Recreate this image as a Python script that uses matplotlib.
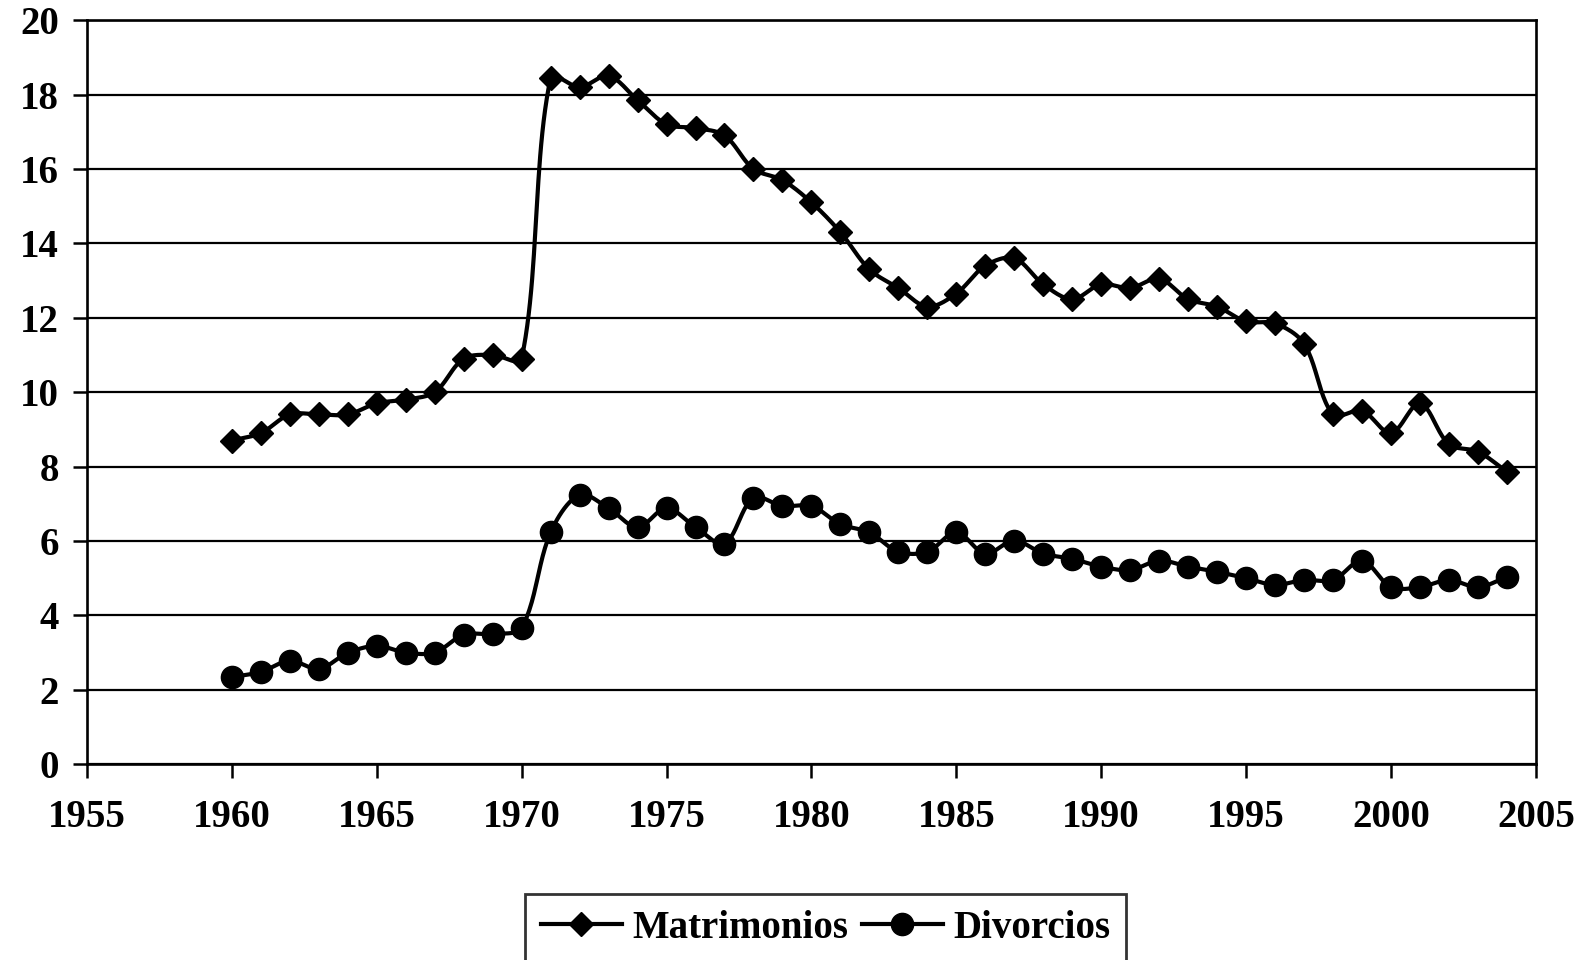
import numpy as np
import matplotlib.pyplot as plt
from matplotlib.lines import Line2D

years = list(range(1960, 2005))
matrimonios = [8.7, 8.9, 9.4, 9.4, 9.4, 9.7, 9.8, 10.0, 10.9, 11.0,
               10.9, 18.45, 18.2, 18.5, 17.85, 17.2, 17.1, 16.9, 16.0, 15.7,
               15.1, 14.3, 13.3, 12.8, 12.3, 12.65, 13.4, 13.6, 12.9, 12.5,
               12.9, 12.8, 13.05, 12.5, 12.3, 11.9, 11.85, 11.3, 9.4, 9.5,
               8.9, 9.7, 8.6, 8.4, 7.86]
divorcios = [2.34, 2.48, 2.78, 2.56, 2.99, 3.18, 3.0, 3.0, 3.48, 3.5,
             3.67, 6.23, 7.24, 6.88, 6.37, 6.88, 6.37, 5.93, 7.16, 6.94,
             6.94, 6.45, 6.23, 5.71, 5.71, 6.23, 5.66, 6.01, 5.66, 5.52,
             5.31, 5.22, 5.47, 5.31, 5.17, 5.0, 4.82, 4.95, 4.95, 5.47,
             4.76, 4.76, 4.95, 4.76, 5.03]

plt.rcParams['font.family'] = ['Liberation Serif', 'DejaVu Serif']
plt.rcParams['font.weight'] = 'bold'


def smooth(x, y, sx=28.9, sy=37.1, n=24, k=1 / 3):
    # Excel-style smoothed line: bezier through the points, in pixel-like space
    pts = np.column_stack([np.asarray(x, float) * sx, np.asarray(y, float) * sy])
    pts = np.vstack([pts[0], pts, pts[-1]])
    d = np.r_[np.linalg.norm(np.diff(pts, axis=0), axis=1), 0]
    t = np.linspace(0, 1, n, endpoint=False)[:, None]
    out = []
    for i in range(1, len(pts) - 2):
        p0, p1, p2, p3 = pts[i - 1], pts[i], pts[i + 1], pts[i + 2]
        d01, d12, d23 = d[i - 1], d[i], d[i + 1]
        c1 = p1 + (p2 - p0) * k * d12 / max(d01 + d12, 1e-9)
        c2 = p2 - (p3 - p1) * k * d12 / max(d12 + d23, 1e-9)
        out.append((1 - t) ** 3 * p1 + 3 * (1 - t) ** 2 * t * c1
                   + 3 * (1 - t) * t ** 2 * c2 + t ** 3 * p2)
    out.append(pts[-2][None])
    out = np.vstack(out)
    return out[:, 0] / sx, out[:, 1] / sy


fig = plt.figure(figsize=(15.87, 9.6), dpi=100)
ax = fig.add_axes([0.0548, 0.204, 0.9130, 0.775])

lw = 3.0
for vals, mk, ms in [(matrimonios, 'D', 12.5), (divorcios, 'o', 16)]:
    sx, sy = smooth(years, vals)
    ax.plot(sx, sy, color='black', lw=lw, zorder=3)
    ax.plot(years, vals, linestyle='none', marker=mk, ms=ms,
            color='black', zorder=4)

ax.set_xlim(1955, 2005)
ax.set_ylim(0, 20)
ax.set_xticks(range(1955, 2006, 5))
ax.set_yticks(range(0, 21, 2))
ax.yaxis.grid(True, color='black', lw=1.6)
ax.set_axisbelow(True)
for s in ax.spines.values():
    s.set_linewidth(1.9)
ax.tick_params(axis='both', direction='out', length=10, width=1.8,
               labelsize=28)
ax.tick_params(axis='x', pad=15)
ax.tick_params(axis='y', pad=10)

handles = [Line2D([], [], color='black', lw=lw, marker='D', ms=12.5),
           Line2D([], [], color='black', lw=lw, marker='o', ms=16)]
leg = fig.legend(handles, ['Matrimonios', 'Divorcios'], ncol=2,
                 loc='upper left', bbox_to_anchor=(525 / 1587, 1 - 894 / 960),
                 prop={'size': 28, 'weight': 'bold'}, frameon=True,
                 fancybox=False, edgecolor='black', handlelength=2.1,
                 handletextpad=0.25, columnspacing=0.35, borderpad=0.4,
                 borderaxespad=0)
leg._legend_box.sep = 0
leg.get_frame().set_linewidth(2)
leg._legend_handle_box.pad = 0

fig.savefig('out.png', dpi=100)
